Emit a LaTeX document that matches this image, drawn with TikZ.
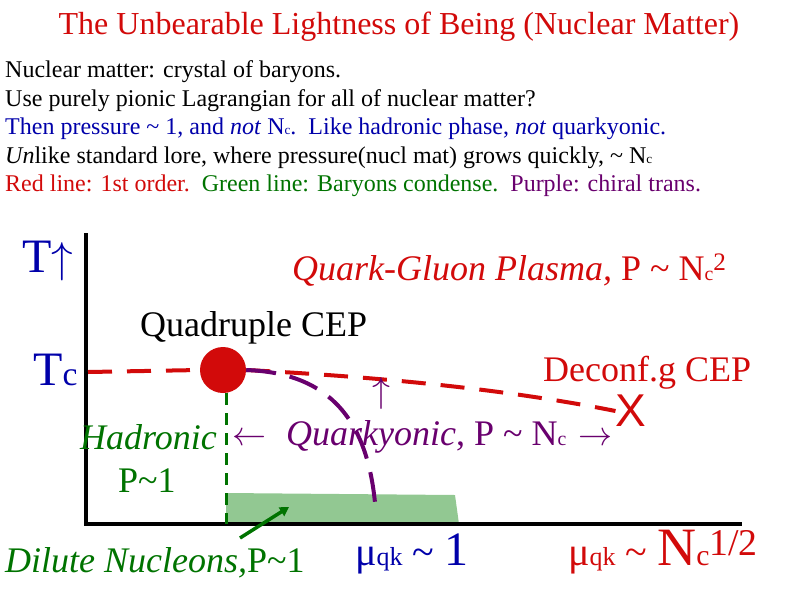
\documentclass[tikz,border=0pt]{standalone}
\usepackage{fontspec}
\setmainfont{Liberation Serif}
\newfontfamily\xfont{Liberation Sans}
\usetikzlibrary{calc}
\usetikzlibrary{shapes}
\usetikzlibrary{arrows.meta}
\definecolor{hdred}{RGB}{210,10,10}
\definecolor{hdblue}{RGB}{0,0,170}
\definecolor{hdgreen}{RGB}{0,115,0}
\definecolor{hdpurple}{RGB}{105,0,110}
\definecolor{hdfill}{RGB}{146,200,146}
\newcommand{\shrink}[1]{\scalebox{0.55}{#1}}
\newcommand{\tl}{\textasciitilde}
\newcommand{\larr}{\resizebox{34pt}{!}{$\leftarrow$}}
\newcommand{\rarr}{\resizebox{34pt}{!}{$\rightarrow$}}
\newcommand{\uarr}[1]{\resizebox{!}{#1}{$\uparrow$}}

\begin{document}
\begin{tikzpicture}[x=1pt, y=-1pt,
    every node/.style={inner sep=0pt, anchor=base west},
    body/.style={font=\fontsize{24}{28.8}\selectfont},
    big/.style={font=\fontsize{36}{43}\selectfont},
    huge/.style={font=\fontsize{48}{48}\selectfont},
    axisline/.style={line width=4pt},
    reddash/.style={draw=hdred, line width=4pt, dash pattern=on 24pt off 15pt},
    purpledash/.style={draw=hdpurple, line width=4pt, dash pattern=on 30pt off 14pt},
    greendash/.style={draw=hdgreen, line width=3pt, dash pattern=on 12pt off 8pt}
    ]
    \useasboundingbox (0,0) rectangle (800,600);
    \node[font=\fontsize{32}{38}\selectfont, text=hdred, anchor=base] (title) at (399,34)
      {The Unbearable Lightness of Being (Nuclear Matter)};
    \node[body] (line1) at (5,77) {Nuclear matter: crystal of baryons.};
    \node[body] (line2) at (5,106) {Use purely pionic Lagrangian for all of nuclear matter?};
    \node[body, text=hdblue] (line3) at (5,134)
      {Then pressure \tl{} 1, and \textit{not} N\shrink{c}.\ \ Like hadronic phase, \textit{not} quarkyonic.};
    \node[body] (line4) at (5,163)
      {\textit{Un}like standard lore, where pressure(nucl mat) grows quickly, \tl{} N\shrink{c}};
    \node[body] (line5) at (5,191)
      {{\color{hdred}Red line: 1st order.}\ \ {\color{hdgreen}Green line: Baryons condense.}\ \ {\color{hdpurple}Purple: chiral trans.}};

    \fill[hdfill] (226,493) -- (455,495) -- (459,524) -- (226,524) -- cycle;
    \coordinate (top) at (86,233);
    \coordinate (orig) at (86,524);
    \coordinate (right) at (742,524);
    \draw[axisline] (top) -- (orig) -- (right);

    \node[circle, fill=hdred, minimum size=46pt, anchor=center] (qcep) at (223,370) {};
    \node[font=\xfont\fontsize{46}{46}\selectfont, text=hdred, anchor=center] (dcep) at (631,411) {X};
    \coordinate (tcleft) at (88,372);
    \coordinate (greenfoot) at (226,524);
    \coordinate (chiralend) at (376,515);
    \draw[reddash] (tcleft) -- (qcep.west);
    \draw[reddash] (qcep.east) .. controls (400,378) and (520,392) .. (dcep.west);
    \draw[purpledash] (qcep.east) .. controls (330,373) and (370,420) .. (chiralend);
    \draw[greendash] (qcep.south -| greenfoot) -- (greenfoot);

    \node[huge, text=hdblue] (taxis) at (22,272) {T\uarr{30pt}};
    \node[huge, text=hdblue] (tc) at (33,385) {T\scalebox{0.7}{c}};
    \node[big, text=hdred] (qgp) at (292,280) {\textit{Quark-Gluon Plasma,} P \tl{} N\shrink{c}\textsuperscript{2}};
    \node[big] (qlabel) at (140,336) {Quadruple CEP};
    \node[big, text=hdred] (dlabel) at (543,381) {Deconf.g CEP};
    \node[big, text=hdpurple] (uparrow) at (372,402) {\uarr{25pt}};
    \node[big, text=hdgreen] (hadronic) at (80,449) {\textit{Hadronic}};
    \node[big, text=hdgreen] (hadp) at (118,492) {P\tl1};
    \node[big, text=hdpurple] (quarky) at (232,445)
      {\larr\hspace{20pt}\textit{Quarkyonic}, P \tl{} N\shrink{c}\hspace{12pt}\rarr};
    \node[big, text=hdgreen] (dilute) at (5,572) {\textit{Dilute Nucleons,}P\tl1};
    \coordinate (dilutetail) at (240,538);
    \coordinate (dilutetip) at (289,507);
    \draw[hdgreen, line width=3.5pt, -{Triangle[length=9pt,width=10pt]}] (dilutetail) -- (dilutetip);
    \node[font=\fontsize{40}{40}\selectfont, text=hdblue] (muone) at (355,565)
      {μ\scalebox{0.65}{qk} \tl{} {\fontsize{48}{48}\selectfont 1}};
    \node[font=\fontsize{40}{40}\selectfont, text=hdred] (mutwo) at (568,565)
      {μ\scalebox{0.65}{qk} \tl{} {\fontsize{54}{54}\selectfont N\shrink{c}\textsuperscript{1/2}}};
\end{tikzpicture}
\end{document}
